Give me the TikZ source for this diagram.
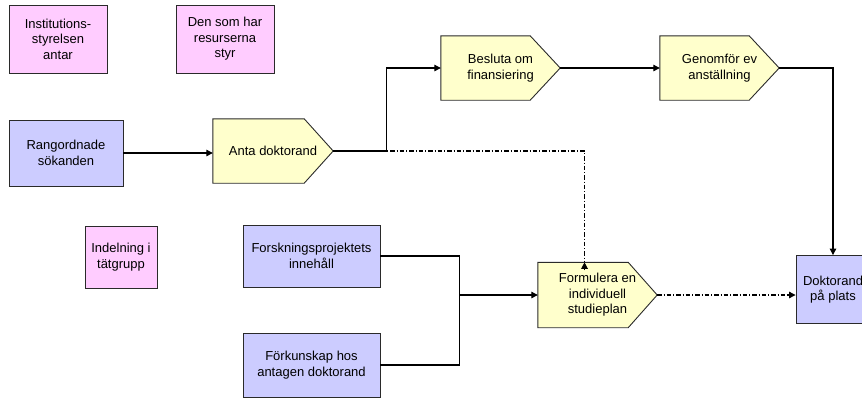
\documentclass[tikz,border=0pt]{standalone}
\usepackage{fontspec}
\setmainfont{Liberation Sans}
\usetikzlibrary{arrows.meta,backgrounds}
\definecolor{pinkfill}{HTML}{FFCCFF}
\definecolor{bluefill}{HTML}{CCCCFF}
\definecolor{yellowfill}{HTML}{FFFFCC}
\definecolor{edgegray}{HTML}{2A2A2A}
% arrow-shaped activity outline behind a named node (#2 = depth of the point)
\newcommand{\activityshape}[2]{%
  \begin{scope}[on background layer]
    \filldraw[actshape] (#1.south west) -- (#1.north west) -- ([xshift=-#2]#1.north east)
      -- (#1.east) -- ([xshift=-#2]#1.south east) -- cycle;
  \end{scope}}
\begin{document}
\begin{tikzpicture}[x=1pt,y=-1pt,
  every node/.style={font=\fontsize{13}{15.6}\selectfont, align=center, inner sep=0pt},
  box/.style={draw=edgegray, line width=0.9pt, rectangle},
  pinkbox/.style={box, fill=pinkfill},
  bluebox/.style={box, fill=bluefill},
  actbox/.style={rectangle},
  actshape/.style={draw=edgegray, line width=0.9pt, fill=yellowfill, line join=miter},
  conn/.style={line width=1.1pt, -{Triangle[length=6.5pt,width=6.5pt]}},
  plainline/.style={line width=1.1pt},
  dashdot/.style={line width=1.1pt, dash pattern=on 4.5pt off 2pt on 1pt off 2pt}
]
\useasboundingbox (0,0) rectangle (862,400);
\clip (0,0) rectangle (862,400);

% roles
\node[pinkbox, minimum width=98, minimum height=68] (inst) at (58,39) {Institutions-\\styrelsen\\antar};
\node[pinkbox, minimum width=98, minimum height=68] (res) at (225,39) {Den som har\\resurserna\\styr};
\node[pinkbox, minimum width=72, minimum height=62] (indel) at (121,257) {Indelning i\\tätgrupp};

% inputs and results
\node[bluebox, minimum width=114, minimum height=66] (rang) at (66,153) {Rangordnade\\sökanden};
\node[bluebox, minimum width=137, minimum height=62] (forsk) at (311.5,256) {Forskningsprojektets\\innehåll};
\node[bluebox, minimum width=137, minimum height=64] (fork) at (311.5,365) {Förkunskap hos\\antagen doktorand};
\node[bluebox, minimum width=74, minimum height=68] (dokt) at (833,289.5) {Doktorand\\på plats};

% activities
\node[actbox, minimum width=120, minimum height=64] (anta) at (273,151) {Anta doktorand};
\node[actbox, minimum width=119, minimum height=64] (besl) at (500.5,68) {Besluta om\\finansiering};
\node[actbox, minimum width=119, minimum height=64] (genf) at (719.5,68) {Genomför ev\\anställning};
\node[actbox, minimum width=119, minimum height=65] (form) at (597.5,295) {Formulera en\\individuell\\studieplan};
\activityshape{anta}{29}
\activityshape{besl}{30}
\activityshape{genf}{30}
\activityshape{form}{29}

% flow
\draw[conn] (rang.east) -- (rang.east -| anta.west);
\draw[dashdot] (anta.east) -| ([xshift=-13]form.north);
\draw[conn] ([xshift=-13,yshift=-8]form.north) -- ([xshift=-13]form.north);
\draw[conn] (anta.east) -- ++(53,0) |- (besl.west);
\draw[conn] (besl.east) -- (genf.west);
\draw[conn] (genf.east) -| (dokt.north);

\path (forsk.east) -- ++(79,0) coordinate (jtop);
\coordinate (join) at (jtop |- form.west);
\draw[plainline] (forsk.east) -| (jtop) |- (fork.east);
\draw[conn] (join) -- (form.west);

\draw[dashdot] (form.east) -- ([xshift=-8]form.east -| dokt.west);
\draw[conn] ([xshift=-8]form.east -| dokt.west) -- (form.east -| dokt.west);
\end{tikzpicture}
\end{document}
